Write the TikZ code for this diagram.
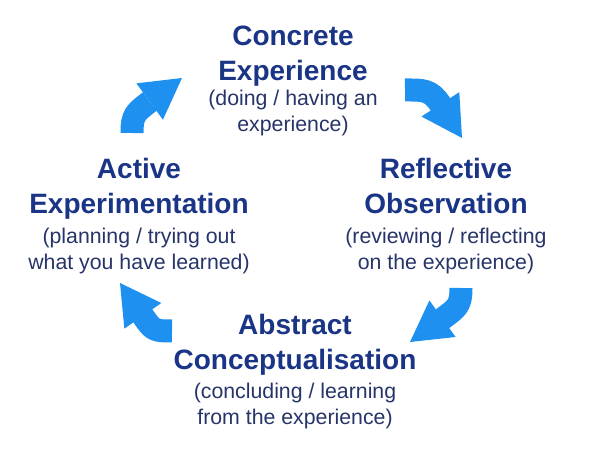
\documentclass[tikz,border=0pt]{standalone}
\usepackage{fontspec}
\setmainfont{Liberation Sans}
\usetikzlibrary{arrows.meta}
\definecolor{titleblue}{RGB}{26,52,134}
\definecolor{subblue}{RGB}{38,52,105}
\definecolor{arrowblue}{RGB}{30,145,240}

\begin{document}
\begin{tikzpicture}[x=1pt,y=-1pt,
    stage/.style={font=\fontsize{28}{35}\selectfont\bfseries,text=titleblue,align=center,anchor=base,inner sep=0pt},
    stagesub/.style={font=\fontsize{21.3}{26}\selectfont,text=subblue,align=center,anchor=base,inner sep=0pt},
    cyclearrow/.style={draw=arrowblue,line width=23pt,line join=round,-{Triangle[length=40pt,width=45pt,line width=0pt]}}]
			\useasboundingbox (0,0) rectangle (590,457);
			% the four stages
			\node[stage] (ce) at (293,81) {Concrete\\Experience};
			\node[stagesub] (ceSub) at (293,132) {(doing / having an\\experience)};
			\node[stage] (ro) at (446,214) {Reflective\\Observation};
			\node[stagesub] (roSub) at (446,270) {(reviewing / reflecting\\on the experience)};
			\node[stage] (ac) at (295,370) {Abstract\\Conceptualisation};
			\node[stagesub] (acSub) at (295,425) {(concluding / learning\\from the experience)};
			\node[stage] (ae) at (139,214) {Active\\Experimentation};
			\node[stagesub] (aeSub) at (139,270) {(planning / trying out\\what you have learned)};
			% arrow ends (start, neck, tip)
			\coordinate (a1s) at (132,133); \coordinate (a1n) at (149.6,101.6); \coordinate (a1t) at (182,78);
			\coordinate (a2s) at (405,90);  \coordinate (a2n) at (440.4,104.4); \coordinate (a2t) at (462,138);
			\coordinate (a3s) at (461,288); \coordinate (a3n) at (442.4,318.8); \coordinate (a3t) at (410,342);
			\coordinate (a4s) at (172,331); \coordinate (a4n) at (142.8,315.8); \coordinate (a4t) at (120,283);
			% curved arrows of the cycle
			\draw[cyclearrow] (a1s) .. controls (132,115) and (135,113) .. (a1n) -- (a1t);
			\draw[cyclearrow] (a2s) .. controls (423,90) and (430.7,89.3) .. (a2n) -- (a2t);
			\draw[cyclearrow] (a3s) .. controls (461,306) and (457,307.9) .. (a3n) -- (a3t);
			\draw[cyclearrow] (a4s) .. controls (154,331) and (153,330.6) .. (a4n) -- (a4t);
		\end{tikzpicture}
\end{document}
